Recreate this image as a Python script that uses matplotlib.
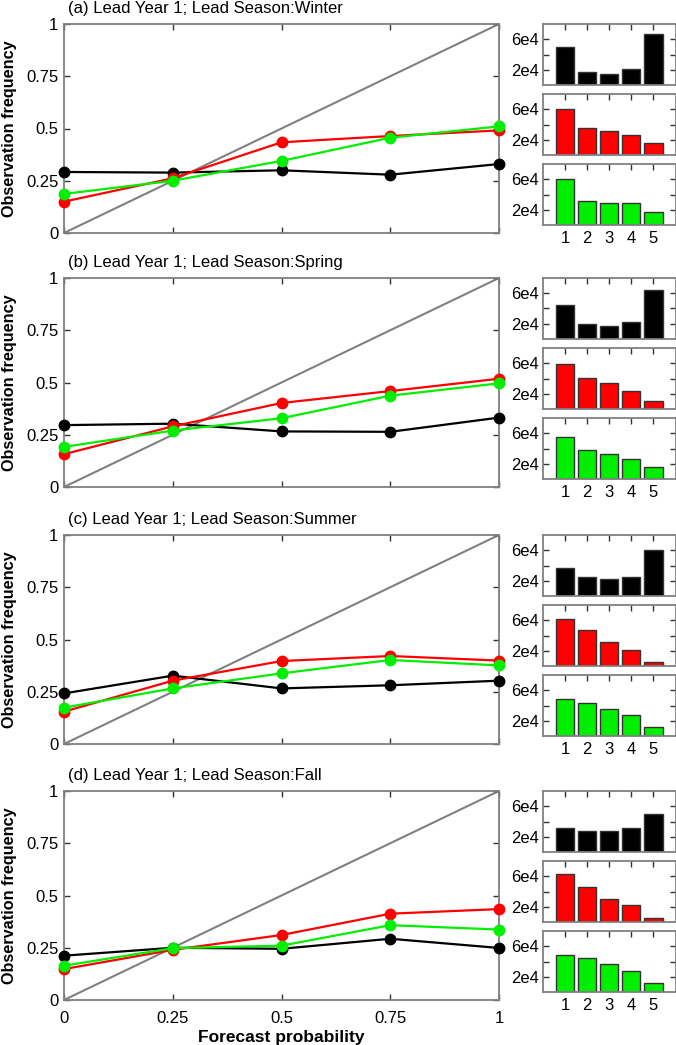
import matplotlib
matplotlib.use("Agg")
import matplotlib.pyplot as plt
import numpy as np

plt.rcParams['font.family'] = ['Liberation Sans', 'DejaVu Sans']

# ---------------- data ----------------
forecast_prob = [0, 0.25, 0.5, 0.75, 1.0]
titles = ["(a) Lead Year 1; Lead Season:Winter",
          "(b) Lead Year 1; Lead Season:Spring",
          "(c) Lead Year 1; Lead Season:Summer",
          "(d) Lead Year 1; Lead Season:Fall"]

black_freq = [
    [0.292, 0.289, 0.300, 0.279, 0.330],
    [0.296, 0.303, 0.266, 0.264, 0.332],
    [0.242, 0.327, 0.266, 0.281, 0.303],
    [0.212, 0.250, 0.245, 0.293, 0.249],
]
red_freq = [
    [0.150, 0.262, 0.434, 0.464, 0.491],
    [0.157, 0.290, 0.402, 0.459, 0.518],
    [0.155, 0.303, 0.397, 0.421, 0.399],
    [0.148, 0.240, 0.311, 0.413, 0.435],
]
green_freq = [
    [0.187, 0.250, 0.345, 0.456, 0.510],
    [0.192, 0.270, 0.329, 0.437, 0.496],
    [0.174, 0.266, 0.338, 0.402, 0.376],
    [0.164, 0.248, 0.260, 0.358, 0.337],
]

bins = [1, 2, 3, 4, 5]
black_counts = [
    [5.00e4, 1.65e4, 1.47e4, 2.13e4, 6.66e4],
    [4.50e4, 1.91e4, 1.74e4, 2.22e4, 6.48e4],
    [3.63e4, 2.44e4, 2.26e4, 2.53e4, 6.00e4],
    [3.19e4, 2.79e4, 2.75e4, 3.14e4, 5.03e4],
]
red_counts = [
    [6.00e4, 3.58e4, 3.14e4, 2.57e4, 1.52e4],
    [5.87e4, 4.02e4, 3.41e4, 2.40e4, 1.08e4],
    [6.10e4, 4.66e4, 3.20e4, 2.15e4, 0.57e4],
    [6.26e4, 4.55e4, 3.01e4, 2.26e4, 0.46e4],
]
green_counts = [
    [6.00e4, 3.20e4, 2.93e4, 2.84e4, 1.73e4],
    [5.52e4, 3.80e4, 3.27e4, 2.57e4, 1.60e4],
    [4.86e4, 4.33e4, 3.49e4, 2.75e4, 1.21e4],
    [4.81e4, 4.46e4, 3.67e4, 2.75e4, 1.21e4],
]

main_ticks = [0, 0.25, 0.5, 0.75, 1]
main_ticklabels = ["0", "0.25", "0.5", "0.75", "1"]
bar_yticks = [2e4, 4e4, 6e4]
bar_yticklabels = ["2e4", "", "6e4"]

series_colors = ["#000000", "#ff0000", "#00ee00"]
spine_color = "#808080"

# ---------------- layout ----------------
W, H = 676, 1045
fig = plt.figure(figsize=(W / 100, H / 100), dpi=100)


def ax_px(l, t, r, b):
    return fig.add_axes([l / W, 1 - b / H, (r - l) / W, (b - t) / H])


def style(ax):
    for s in ax.spines.values():
        s.set_color(spine_color)
        s.set_linewidth(1.3)
    ax.tick_params(direction='in', top=True, right=True, length=4,
                   width=1.0, color='#333333', labelsize=12, pad=4)


main_tops = [24, 278, 535, 791]
main_h = 209

for i in range(4):
    t = main_tops[i]
    ax = ax_px(64, t, 499, t + main_h)
    style(ax)
    ax.plot([0, 1], [0, 1], color='#808080', lw=1.5, zorder=1)
    for freq, c in zip([black_freq[i], red_freq[i], green_freq[i]], series_colors):
        ax.plot(forecast_prob, freq, color=c, lw=1.6, marker='o',
                markersize=7.5, clip_on=False, zorder=3)
    ax.set_xlim(0, 1)
    ax.set_ylim(0, 1)
    ax.set_yticks(main_ticks)
    ax.set_yticklabels(main_ticklabels)
    ax.set_xticks(main_ticks)
    ax.tick_params(axis='x', pad=8)
    if i == 3:
        ax.set_xticklabels(main_ticklabels)
        ax.set_xlabel("Forecast probability", fontsize=12.5, fontweight='bold',
                      labelpad=3)
    else:
        ax.set_xticklabels([])
    ax.set_ylabel("Observation frequency", fontsize=11.7, fontweight='bold')
    ax.yaxis.set_label_coords(-0.108, 0.5)
    ax.text(0.01, 1.055, titles[i], transform=ax.transAxes, fontsize=12,
            ha='left', va='baseline')

    # bar subpanels
    for j, (counts, c) in enumerate(zip([black_counts[i], red_counts[i],
                                         green_counts[i]], series_colors)):
        bt = t + j * 70
        bax = ax_px(543, bt, 675.5, bt + 61)
        style(bax)
        bax.bar(bins, counts, width=0.83, color=c, edgecolor='#333333',
                linewidth=1.0, zorder=2)
        bax.set_xlim(0, 6)
        bax.set_ylim(0, 8e4)
        bax.set_yticks(bar_yticks)
        bax.set_yticklabels(bar_yticklabels)
        bax.set_xticks(bins)
        if j == 2:
            bax.set_xticklabels([str(b) for b in bins])
        else:
            bax.set_xticklabels([])
        bax.tick_params(axis='x', bottom=False, pad=4)
        bax.tick_params(axis='y', pad=3)

fig.savefig("out.png", dpi=100)
